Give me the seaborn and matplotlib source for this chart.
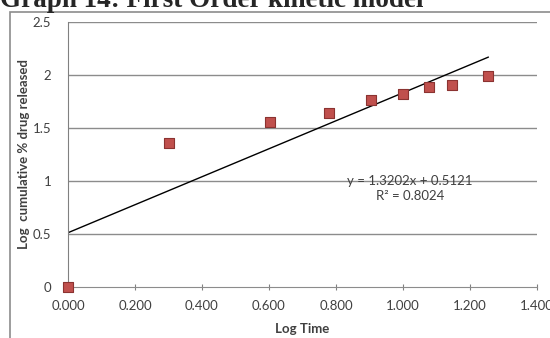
import numpy as np
import matplotlib.pyplot as plt
import seaborn as sns
from matplotlib.patches import Rectangle

# data
log_time = [0.000, 0.301, 0.602, 0.778, 0.903, 1.000, 1.079, 1.146, 1.255]
log_release = [0.00, 1.36, 1.56, 1.64, 1.76, 1.82, 1.89, 1.91, 1.99]
slope = 1.3202
intercept = 0.5121
r2 = 0.8024

sns.set_style('white')
plt.rcParams['font.family'] = ['Lato', 'DejaVu Sans']

fig = plt.figure(figsize=(5.5, 3.38), dpi=100)
ax = fig.add_axes([68 / 550, 1 - 287 / 338, 469 / 550, 265 / 338])

# outer chart border
fig.patches.append(Rectangle((10 / 550, -0.05), 1.0, 1 - 12 / 338 + 0.05,
                             transform=fig.transFigure, fill=False,
                             edgecolor='#8c8c8c', linewidth=1.2))

# title, partly cut off at the top like in the source picture
fig.text(0.0, 1 - 7 / 338, 'Graph 14: First Order kinetic model',
         family='Liberation Serif', weight='bold', fontsize=19.5,
         va='baseline', ha='left')

for yv in [0.5, 1.0, 1.5, 2.0, 2.5]:
    ax.axhline(yv, color='#8c8c8c', linewidth=1.0, zorder=0)

xs = np.array([0.0, max(log_time)])
sns.lineplot(x=xs, y=slope * xs + intercept, ax=ax, color='black',
             linewidth=1.0, zorder=2)
sns.scatterplot(x=log_time, y=log_release, ax=ax, marker='s', s=55,
                color='#c0504d', edgecolor='#8b3331', linewidth=0.8,
                zorder=3, clip_on=False)

ax.set_xlim(0, 1.4)
ax.set_ylim(0, 2.5)
ax.set_xticks(np.arange(0, 1.41, 0.2))
ax.set_xticklabels([f'{v:.3f}' for v in np.arange(0, 1.41, 0.2)])
ax.set_yticks([0, 0.5, 1, 1.5, 2, 2.5])
ax.set_yticklabels(['0', '0.5', '1', '1.5', '2', '2.5'])
ax.tick_params(axis='both', labelsize=9.5, colors='#404040')
ax.tick_params(axis='x', direction='inout', length=4, bottom=True,
               color='#808080', pad=7)
ax.tick_params(axis='y', length=0, pad=12)

for side in ['top', 'right']:
    ax.spines[side].set_visible(False)
ax.spines['left'].set_color('#808080')
ax.spines['bottom'].set_color('#8c8c8c')

ax.set_xlabel('Log Time', fontsize=9.5, weight='bold', color='#404040',
              labelpad=8)
ax.set_ylabel('Log  cumulative % drug released', fontsize=9.5, weight='bold',
              color='#404040', labelpad=2)

ax.text(1.02, 0.93, f'y = {slope}x + {intercept}\nR² = {r2}', fontsize=9.5,
        color='#404040', ha='center', va='center', linespacing=1.35)

fig.savefig('out.png', dpi=100)
